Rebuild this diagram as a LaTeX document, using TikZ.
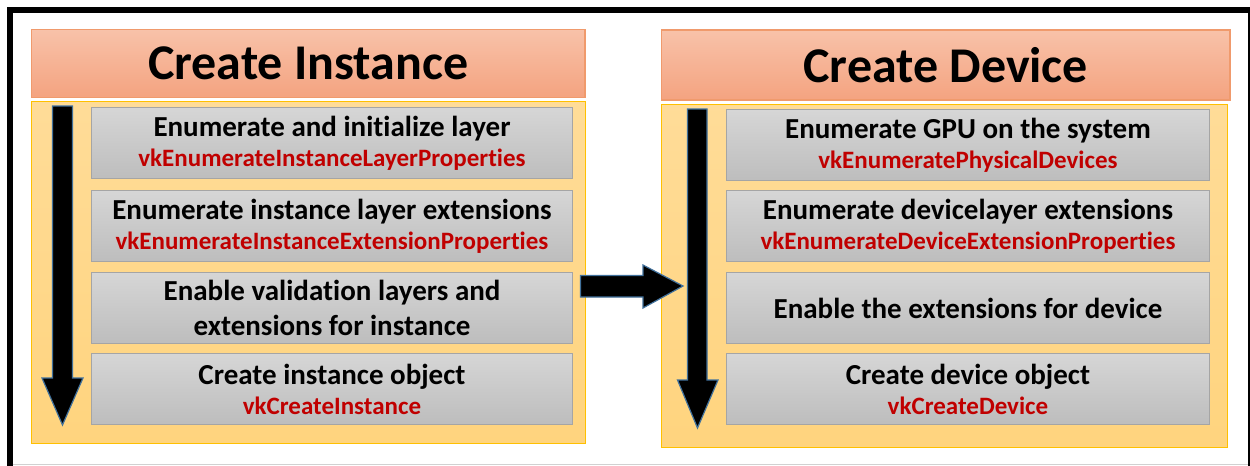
\documentclass[tikz,border=0pt]{standalone}
\usepackage{fontspec}
\setmainfont{Carlito}[Ligatures=NoCommon]
\definecolor{hdrtop}{HTML}{F8C2A9}
\definecolor{hdrbot}{HTML}{F4A380}
\definecolor{hdrborder}{HTML}{F09A6C}
\definecolor{paneltop}{HTML}{FFDC98}
\definecolor{panelbot}{HTML}{FFD47E}
\definecolor{panelborder}{HTML}{FFC000}
\definecolor{graytop}{HTML}{D6D6D6}
\definecolor{graybot}{HTML}{BDBDBD}
\definecolor{grayborder}{HTML}{A5A5A5}
\definecolor{vkred}{HTML}{C00000}
\definecolor{arrowline}{HTML}{41719C}
\newcommand{\vkfn}[1]{{\fontsize{12.5}{15}\selectfont\color{vkred}#1}}
\begin{document}
\begin{tikzpicture}[x=0.5pt,y=-0.5pt,
  hdr/.style={draw=hdrborder, line width=0.6pt, top color=hdrtop, bottom color=hdrbot,
    inner sep=0pt, font=\fontsize{25}{30}\selectfont\bfseries},
  panel/.style={draw=panelborder, line width=0.5pt, top color=paneltop, bottom color=panelbot, inner sep=0pt},
  stepbox/.style={draw=grayborder, line width=0.6pt, top color=graytop, bottom color=graybot,
    inner sep=0pt, align=center, font=\fontsize{14.5}{17.5}\selectfont\bfseries},
  lbox/.style={stepbox, minimum width=240.5pt, minimum height=35.5pt},
  rbox/.style={stepbox, minimum width=241.5pt, minimum height=35.5pt},
  blockarrow/.style={fill=black, draw=arrowline, line width=0.6pt, line join=miter}
]
\fill[white] (0,0) rectangle (1250,466);
\useasboundingbox (0,0) rectangle (1250,466);

% outer frame
\fill[black] (6.7,7) rectangle (12.7,466);
\fill[black] (6.7,7) rectangle (1250,13.3);
\fill[black] (1247.7,7) rectangle (1250,466);
\draw[black!18, line width=0.5pt] (12.7,464) -- (1247.7,464);

% left column
\node[hdr, minimum width=276.8pt, minimum height=34pt] (h1) at (308.2,63.3) {Create Instance};
\node[panel, minimum width=276.75pt, minimum height=171pt] (p1) at (308.25,272) {};
\node[lbox] (l1) at (332,143) {Enumerate and initialize layer\\[-2.5pt]\vkfn{vkEnumerateInstanceLayerProperties}};
\node[lbox] (l2) at (332,226) {Enumerate instance layer extensions\\[-2.5pt]\vkfn{vkEnumerateInstanceExtensionProperties}};
\node[lbox] (l3) at (332,308) {Enable validation layers and\\extensions for instance};
\node[lbox] (l4) at (332,389) {Create instance object\\[-2.5pt]\vkfn{vkCreateInstance}};
\draw[blockarrow] (52.5,106) -- (72.5,106) -- (72.5,378) -- (83,378) -- (62.5,425) -- (42,378) -- (52.5,378) -- cycle;

% right column
\node[hdr, minimum width=284.25pt, minimum height=35pt] (h2) at (945.75,65) {Create Device};
\node[panel, minimum width=283pt, minimum height=171.5pt] (p2) at (944.55,275.5) {};
\node[rbox] (r1) at (968,145.3) {Enumerate GPU on the system\\[-2.5pt]\vkfn{vkEnumeratePhysicalDevices}};
\node[rbox] (r2) at (968,226) {Enumerate devicelayer extensions\\[-2.5pt]\vkfn{vkEnumerateDeviceExtensionProperties}};
\node[rbox] (r3) at (968,308) {Enable the extensions for device};
\node[rbox] (r4) at (968,389.2) {Create device object\\[-2.5pt]\vkfn{vkCreateDevice}};
\draw[blockarrow] (687.5,109) -- (707,109) -- (707,380) -- (718,380) -- (697.5,428) -- (677.5,380) -- (687.5,380) -- cycle;

% connecting arrow
\draw[blockarrow] (580.5,275.5) -- (643,275.5) -- (643,265) -- (683,286) -- (643,308) -- (643,297) -- (580.5,297) -- cycle;
\end{tikzpicture}
\end{document}
